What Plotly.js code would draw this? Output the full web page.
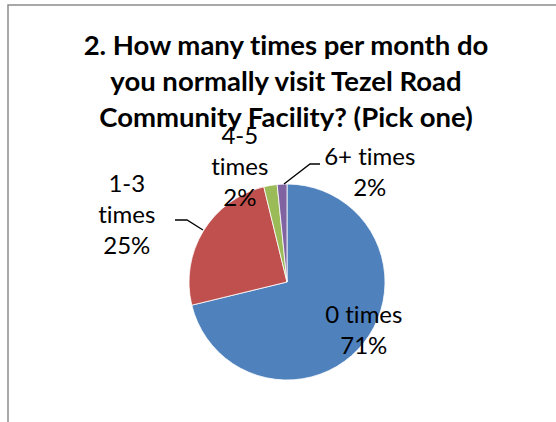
<!DOCTYPE html>
<html>
<head>
<meta charset="utf-8">
<script src="https://cdn.plot.ly/plotly-3.0.1.min.js"></script>
<style>html,body{margin:0;padding:0;background:#fff;}#chart{width:556px;height:422px;}
#chart text{font-variant-ligatures:none;font-feature-settings:"liga" 0;}</style>
</head>
<body>
<div id="chart"></div>
<script>
const categories = ["0 times", "1-3 times", "4-5 times", "6+ times"];
const labelLines = ["0 times", "1-3<br>times", "4-5<br>times", "6+ times"];
const values = [71.2, 25.0, 2.2, 1.6];
const colors = ["#4F81BD", "#C0504D", "#9BBB59", "#8064A2"];
const titleText = "<b>2. How many times per month do<br>you normally visit Tezel Road<br>Community Facility? (Pick one)</b>";

const W = 556, H = 422;
const px = x => x / W;
const py = y => 1 - y / H;

const total = values.reduce((a, b) => a + b, 0);
const pctText = values.map(v => Math.round(v / total * 100) + "%");

// label centers (pixels)
const labelPos = [[364, 329], [127, 213], [240, 165], [370, 171]];

const cx = 287, cy = 282, r = 98;

const data = [{
  type: "pie",
  labels: categories,
  values: values,
  sort: false,
  direction: "clockwise",
  rotation: 0,
  textinfo: "none",
  hoverinfo: "label+percent",
  marker: {colors: colors, line: {color: "#ffffff", width: 0.8}},
  domain: {x: [px(cx - r), px(cx + r)], y: [py(cy + r), py(cy - r)]},
  showlegend: false
}];

const annotations = categories.map((c, i) => ({
  xref: "paper", yref: "paper",
  x: px(labelPos[i][0]), y: py(labelPos[i][1]),
  xanchor: "center", yanchor: "middle",
  text: labelLines[i] + "<br>" + pctText[i],
  showarrow: false,
  font: {family: "Lato, 'Open Sans', sans-serif", size: 24, color: "#000"}
}));

const shapes = [
  {type: "path", xref: "paper", yref: "paper",
   path: `M ${px(8)} ${py(422)} L ${px(8)} ${py(5)} L ${px(556)} ${py(5)}`,
   line: {color: "#8c8c8c", width: 1.5}},
  {type: "path", xref: "paper", yref: "paper",
   path: `M ${px(175)} ${py(220)} L ${px(187)} ${py(220)} L ${px(203)} ${py(230)}`,
   line: {color: "#000", width: 1.3}},
  {type: "path", xref: "paper", yref: "paper",
   path: `M ${px(320)} ${py(164)} L ${px(310)} ${py(164)} L ${px(284)} ${py(184)}`,
   line: {color: "#000", width: 1.3}}
];

const layout = {
  width: W, height: H,
  margin: {l: 0, r: 0, t: 0, b: 0},
  paper_bgcolor: "#ffffff",
  title: {
    text: titleText,
    x: px(286), xanchor: "center",
    y: py(55), yanchor: "middle",
    font: {family: "Lato, 'Open Sans', sans-serif", size: 27.5, color: "#000"}
  },
  annotations: annotations,
  shapes: shapes,
  showlegend: false
};

Plotly.newPlot("chart", data, layout, {displayModeBar: false, staticPlot: true});
</script>
</body>
</html>
